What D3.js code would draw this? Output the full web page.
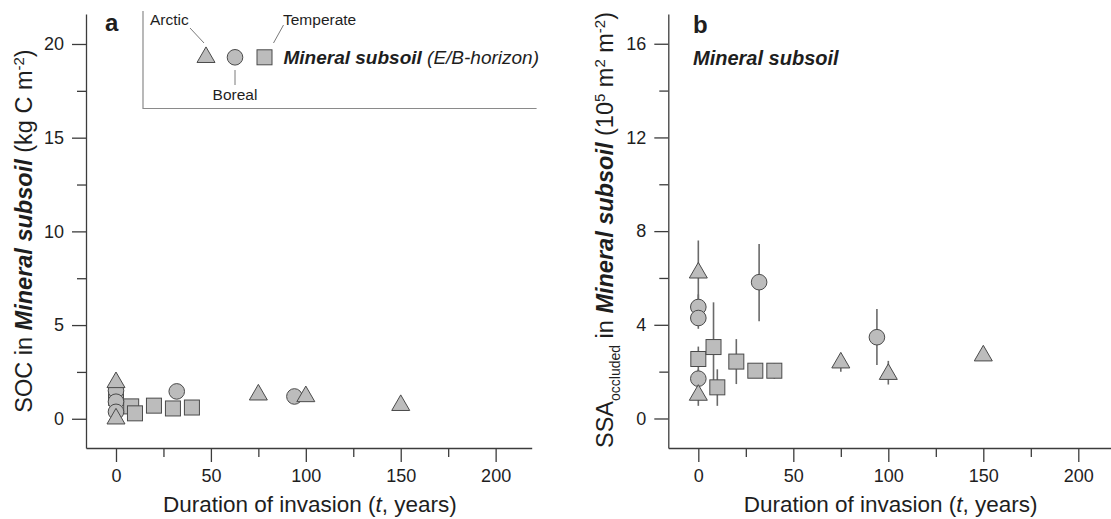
<!DOCTYPE html>
<html>
<head>
<meta charset="utf-8">
<script src="https://cdn.jsdelivr.net/npm/d3@7"></script>
<style>
  body { margin: 0; background: #fff; }
  svg { display: block; font-family: "Liberation Sans", Arial, sans-serif; }
</style>
</head>
<body>
<script>
// ---- data ----
const xTicks = [0, 25, 50, 75, 100, 125, 150, 175, 200];
const yTicksA = [0, 2.5, 5, 7.5, 10, 12.5, 15, 17.5, 20];
const yTicksB = [0, 2, 4, 6, 8, 10, 12, 14, 16];

// panel a: SOC in mineral subsoil (kg C m-2)
const socArctic = [
  { t: 0, v: 1.94 }, { t: 0, v: 0.0 }, { t: 75, v: 1.28 }, { t: 100, v: 1.19 }, { t: 150, v: 0.72 }
];
const socBoreal = [
  { t: 0, v: 1.5 }, { t: 0, v: 0.91 }, { t: 0, v: 0.37 }, { t: 32, v: 1.46 }, { t: 94, v: 1.19 }
];
const socTemperate = [
  { t: 0, v: 1.12 }, { t: 8, v: 0.66 }, { t: 10, v: 0.29 }, { t: 20, v: 0.7 }, { t: 30, v: 0.55 }, { t: 40, v: 0.6 }
];

// panel b: SSA occluded (10^5 m2 m-2) with error range
const ssaArctic = [
  { t: 0, v: 6.22, lo: 4.9, hi: 7.6 },
  { t: 0, v: 1.0, lo: 0.54, hi: 1.46 },
  { t: 75, v: 2.38, lo: 2.0, hi: 2.75 },
  { t: 100, v: 1.89, lo: 1.45, hi: 2.46 },
  { t: 150, v: 2.68, lo: 2.5, hi: 2.85 }
];
const ssaBoreal = [
  { t: 0, v: 4.76, lo: 4.3, hi: 5.3 },
  { t: 0, v: 4.29, lo: 3.83, hi: 4.75 },
  { t: 0, v: 1.7, lo: 1.3, hi: 2.1 },
  { t: 32, v: 5.82, lo: 4.15, hi: 7.45 },
  { t: 94, v: 3.47, lo: 2.28, hi: 4.68 }
];
const ssaTemperate = [
  { t: 0, v: 2.54, lo: 2.0, hi: 3.07 },
  { t: 8, v: 3.05, lo: 1.14, hi: 4.96 },
  { t: 10, v: 1.33, lo: 0.54, hi: 2.1 },
  { t: 20, v: 2.43, lo: 1.47, hi: 3.39 },
  { t: 30, v: 2.04, lo: 1.9, hi: 2.2 },
  { t: 40, v: 2.04, lo: 1.7, hi: 2.35 }
];

// ---- setup ----
const W = 1111, H = 519;
const fill = "#bcbcbc", stroke = "#4a4a4a", axisCol = "#3c3c3c", textCol = "#1e1e1e";

const svg = d3.select("body").append("svg").attr("width", W).attr("height", H);

const xA = d3.scaleLinear().domain([-15.8, 219]).range([86, 531.7]);
const yA = d3.scaleLinear().domain([-1.56, 21.6]).range([448, 14]);
const xB = d3.scaleLinear().domain([-15.8, 219]).range([668.3, 1114.4]);
const yB = d3.scaleLinear().domain([-1.26, 17.27]).range([448, 14]);

function drawAxes(x, y, yTicks, yMajor) {
  const bottom = y.range()[0];
  const left = x.range()[0];

  const gx = svg.append("g")
    .attr("transform", `translate(0,${bottom})`)
    .call(d3.axisBottom(x).tickValues(xTicks).tickSize(14).tickSizeOuter(0)
      .tickFormat(d => d % 50 === 0 ? d : ""));
  gx.selectAll("line").filter(d => d % 50 !== 0).attr("y2", 9);
  gx.selectAll("text").attr("y", 21).attr("dy", "0.71em")
    .style("font-size", "18px").attr("fill", textCol);

  const gy = svg.append("g")
    .attr("transform", `translate(${left},0)`)
    .call(d3.axisLeft(y).tickValues(yTicks).tickSize(14).tickSizeOuter(0)
      .tickFormat(d => d % yMajor === 0 ? d : ""));
  gy.selectAll("line").filter(d => d % yMajor !== 0).attr("x2", -9);
  gy.selectAll("text").attr("x", -22).style("font-size", "18px").attr("fill", textCol);

  [gx, gy].forEach(g => {
    g.selectAll("path, line").attr("stroke", axisCol).attr("stroke-width", 1.3);
  });

  // x-axis title
  const xt = svg.append("text")
    .attr("x", (x.range()[0] + Math.min(x.range()[1], W)) / 2 + 1)
    .attr("y", 512)
    .attr("text-anchor", "middle")
    .style("font-size", "22.5px")
    .attr("fill", textCol);
  xt.append("tspan").text("Duration of invasion (");
  xt.append("tspan").style("font-style", "italic").text("t");
  xt.append("tspan").text(", years)");
}

function drawMarkers(x, y, arctic, boreal, temperate) {
  const g = svg.append("g");
  // squares first, then circles, then triangles on top
  g.selectAll(".sq").data(temperate).join("rect")
    .attr("x", d => x(d.t) - 7.5).attr("y", d => y(d.v) - 7.5)
    .attr("width", 15).attr("height", 15)
    .attr("fill", fill).attr("stroke", stroke).attr("stroke-width", 1);
  g.selectAll(".ci").data(boreal).join("circle")
    .attr("cx", d => x(d.t)).attr("cy", d => y(d.v)).attr("r", 7.8)
    .attr("fill", fill).attr("stroke", stroke).attr("stroke-width", 1);
  const s = 18, h = s * Math.sqrt(3) / 2;
  g.selectAll(".tr").data(arctic).join("path")
    .attr("d", d => {
      const cx = x(d.t), cy = y(d.v);
      return `M${cx},${cy - 2 * h / 3}L${cx + s / 2},${cy + h / 3}L${cx - s / 2},${cy + h / 3}Z`;
    })
    .attr("fill", fill).attr("stroke", stroke).attr("stroke-width", 1);
}

function drawErrors(x, y, series) {
  svg.append("g").selectAll("line").data(series).join("line")
    .attr("x1", d => x(d.t)).attr("x2", d => x(d.t))
    .attr("y1", d => y(d.lo)).attr("y2", d => y(d.hi))
    .attr("stroke", "#6a6a6a").attr("stroke-width", 1.6);
}

// ---- panel a ----
drawAxes(xA, yA, yTicksA, 5);
drawMarkers(xA, yA, socArctic, socBoreal, socTemperate);

const ytA = svg.append("text")
  .attr("transform", `translate(32,${(14 + 448) / 2}) rotate(-90)`)
  .attr("text-anchor", "middle")
  .style("font-size", "23.5px").attr("fill", textCol);
ytA.append("tspan").text("SOC in ");
ytA.append("tspan").style("font-weight", "bold").style("font-style", "italic").text("Mineral subsoil");
ytA.append("tspan").text(" (kg C m");
ytA.append("tspan").attr("dy", -8).style("font-size", "15px").text("-2");
ytA.append("tspan").attr("dy", 8).text(")");

svg.append("text").attr("x", 105).attr("y", 31)
  .style("font-size", "24px").style("font-weight", "bold").attr("fill", textCol).text("a");

// legend inset
svg.append("path")
  .attr("d", "M143,11V108.5H536.6")
  .attr("fill", "none").attr("stroke", "#8a8a8a").attr("stroke-width", 1.2);

const legY = 57.3;
const lg = svg.append("g");
const ls = 18, lh = ls * Math.sqrt(3) / 2;
lg.append("path")
  .attr("d", `M206,${legY - 2 * lh / 3}L${206 + ls / 2},${legY + lh / 3}L${206 - ls / 2},${legY + lh / 3}Z`)
  .attr("fill", fill).attr("stroke", stroke);
lg.append("circle").attr("cx", 235).attr("cy", legY).attr("r", 7.8)
  .attr("fill", fill).attr("stroke", stroke);
lg.append("rect").attr("x", 257).attr("y", legY - 7.5).attr("width", 15).attr("height", 15)
  .attr("fill", fill).attr("stroke", stroke);

const leader = [
  [190, 28, 204, 43],
  [235, 70, 235, 85],
  [283.5, 25, 273.5, 43]
];
lg.selectAll(".ld").data(leader).join("line")
  .attr("x1", d => d[0]).attr("y1", d => d[1]).attr("x2", d => d[2]).attr("y2", d => d[3])
  .attr("stroke", "#7a7a7a").attr("stroke-width", 1);

lg.append("text").attr("x", 150).attr("y", 25).style("font-size", "15.5px").attr("fill", textCol).text("Arctic");
lg.append("text").attr("x", 283).attr("y", 25).style("font-size", "15.5px").attr("fill", textCol).text("Temperate");
lg.append("text").attr("x", 235).attr("y", 100).attr("text-anchor", "middle")
  .style("font-size", "15.5px").attr("fill", textCol).text("Boreal");

const lt = lg.append("text").attr("x", 283.5).attr("y", legY + 7)
  .style("font-size", "19px").attr("fill", textCol);
lt.append("tspan").style("font-weight", "bold").style("font-style", "italic").text("Mineral subsoil ");
lt.append("tspan").style("font-style", "italic").text("(E/B-horizon)");

// ---- panel b ----
drawAxes(xB, yB, yTicksB, 4);
drawErrors(xB, yB, ssaArctic.concat(ssaBoreal, ssaTemperate));
drawMarkers(xB, yB, ssaArctic, ssaBoreal, ssaTemperate);

const ytB = svg.append("text")
  .attr("transform", `translate(613,${(14 + 448) / 2 - 1}) rotate(-90)`)
  .attr("text-anchor", "middle")
  .style("font-size", "23.5px").attr("fill", textCol);
ytB.append("tspan").text("SSA");
ytB.append("tspan").attr("dy", 7).style("font-size", "14px").text("occluded");
ytB.append("tspan").attr("dy", -7).text(" in ");
ytB.append("tspan").style("font-weight", "bold").style("font-style", "italic").text("Mineral subsoil");
ytB.append("tspan").text(" (10");
ytB.append("tspan").attr("dy", -8).style("font-size", "15px").text("5");
ytB.append("tspan").attr("dy", 8).text(" m");
ytB.append("tspan").attr("dy", -8).style("font-size", "15px").text("2");
ytB.append("tspan").attr("dy", 8).text(" m");
ytB.append("tspan").attr("dy", -8).style("font-size", "15px").text("-2");
ytB.append("tspan").attr("dy", 8).text(")");

svg.append("text").attr("x", 693).attr("y", 33)
  .style("font-size", "24px").style("font-weight", "bold").attr("fill", textCol).text("b");
svg.append("text").attr("x", 693).attr("y", 65)
  .style("font-size", "20px").style("font-weight", "bold").style("font-style", "italic")
  .attr("fill", textCol).text("Mineral subsoil");
</script>
</body>
</html>
